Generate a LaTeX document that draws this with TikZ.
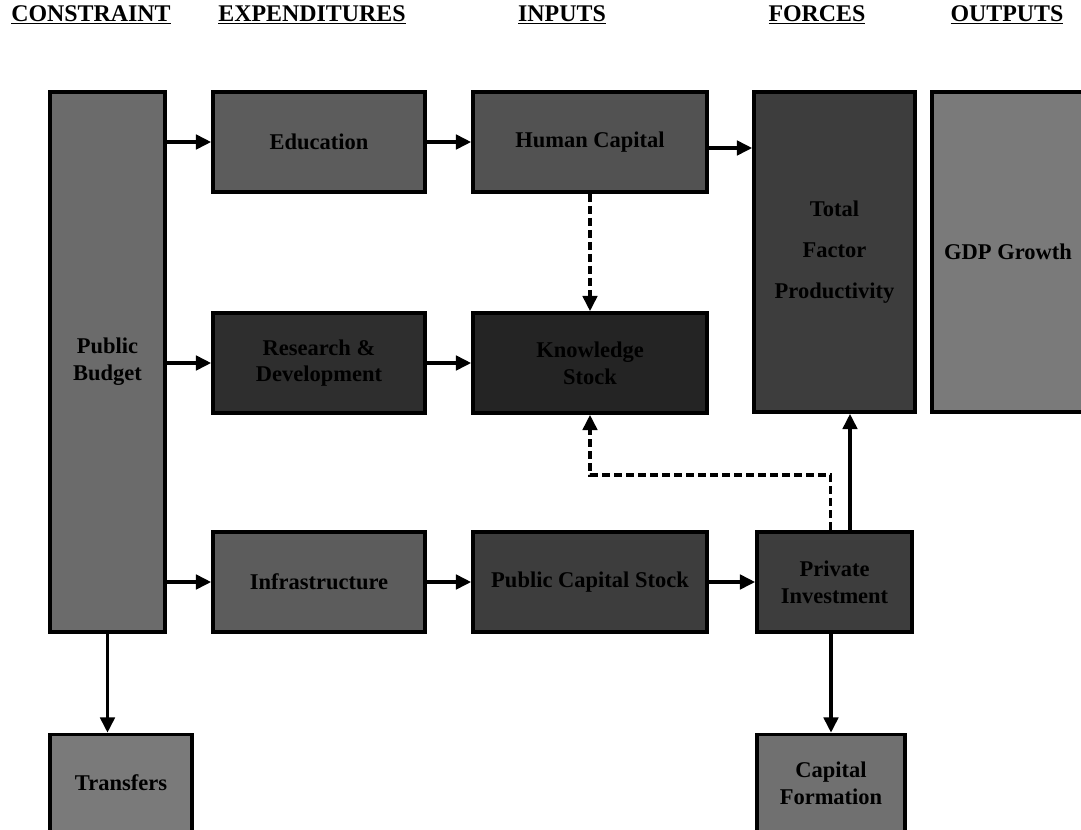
\documentclass[tikz,border=0pt]{standalone}
\usepackage{fontspec}
\setmainfont{Liberation Serif}
\usetikzlibrary{arrows.meta}
\begin{document}
\def\u{0.025cm}
\begin{tikzpicture}[x=0.025cm,y=-0.025cm,
  hdr/.style={font=\fontsize{17}{20}\selectfont\bfseries, inner sep=0pt, anchor=base},
  box/.style={draw=black, line width=2.6pt, inner sep=2pt, align=center,
    text=black, font=\fontsize{16}{19}\selectfont\bfseries},
  arr/.style={line width=2.4pt, -{Triangle[length=0.38cm,width=0.36cm]}},
  dsh/.style={arr, dash pattern=on 0.2cm off 0.1cm}]
\useasboundingbox (0,0) rectangle (1081,830);
% headers
\node[hdr] (h1) at (91,21) {\underline{CONSTRAINT}};
\node[hdr] (h2) at (312,21) {\underline{EXPENDITURES}};
\node[hdr] (h3) at (562,21) {\underline{INPUTS}};
\node[hdr] (h4) at (817,21) {\underline{FORCES}};
\node[hdr] (h5) at (1007,21) {\underline{OUTPUTS}};
% boxes
\node[box, fill=black!58, minimum width={115*\u}, minimum height={540*\u}] (cons) at (107.5,362) {Public\\Budget};
\node[box, fill=black!64, minimum width={212*\u}, minimum height={100*\u}] (et) at (319,142) {Education};
\node[box, fill=black!68, minimum width={234*\u}, minimum height={100*\u}] (it) at (590,142) {Human Capital};
\node[box, fill=black!76, minimum width={161*\u}, minimum height={320*\u}] (fo) at (834.5,252) {Total\\[10pt]Factor\\[10pt]Productivity};
\node[box, fill=black!52, minimum width={152*\u}, minimum height={320*\u}] (ou) at (1008,252) {GDP Growth};
\node[box, fill=black!82, minimum width={212*\u}, minimum height={100*\u}] (em) at (319,363) {Research \&\\Development};
\node[box, fill=black!86, minimum width={234*\u}, minimum height={100*\u}] (im) at (590,363) {Knowledge\\Stock};
\node[box, fill=black!64, minimum width={212*\u}, minimum height={100*\u}] (eb) at (319,582) {Infrastructure};
\node[box, fill=black!76, minimum width={234*\u}, minimum height={100*\u}] (ib) at (590,582) {Public Capital Stock};
\node[box, fill=black!76, minimum width={155*\u}, minimum height={100*\u}] (fb) at (834.5,582) {Private\\Investment};
\node[box, fill=black!52, minimum width={142*\u}, minimum height={97*\u}] (bl) at (121,783) {Transfers};
\node[box, fill=black!56, minimum width={148*\u}, minimum height={97*\u}] (br) at (831,783) {Capital\\Formation};
% connectors
\draw[arr] (cons.east |- et.west) -- (et.west);
\draw[arr] (cons.east |- em.west) -- (em.west);
\draw[arr] (cons.east |- eb.west) -- (eb.west);
\draw[arr] (et.east) -- (it.west);
\draw[arr] ([yshift={-6*\u}]it.east) -- ([yshift={-6*\u}]it.east -| fo.west);
\draw[arr] (em.east) -- (im.west);
\draw[arr] (eb.east) -- (ib.west);
\draw[arr] (ib.east) -- (fb.west);
\draw[dsh] (it.south) -- (im.north);
\coordinate (dj) at (590,475);
\draw[dsh] ([xshift={-4*\u}]fb.north) |- (dj) -- (im.south);
\draw[arr] ([xshift={15.5*\u}]fb.north) -- ([xshift={15.5*\u}]fb.north |- fo.south);
\draw[arr] (cons.south) -- (cons.south |- bl.north);
\draw[arr] (br.north |- fb.south) -- (br.north);
\end{tikzpicture}
\end{document}
